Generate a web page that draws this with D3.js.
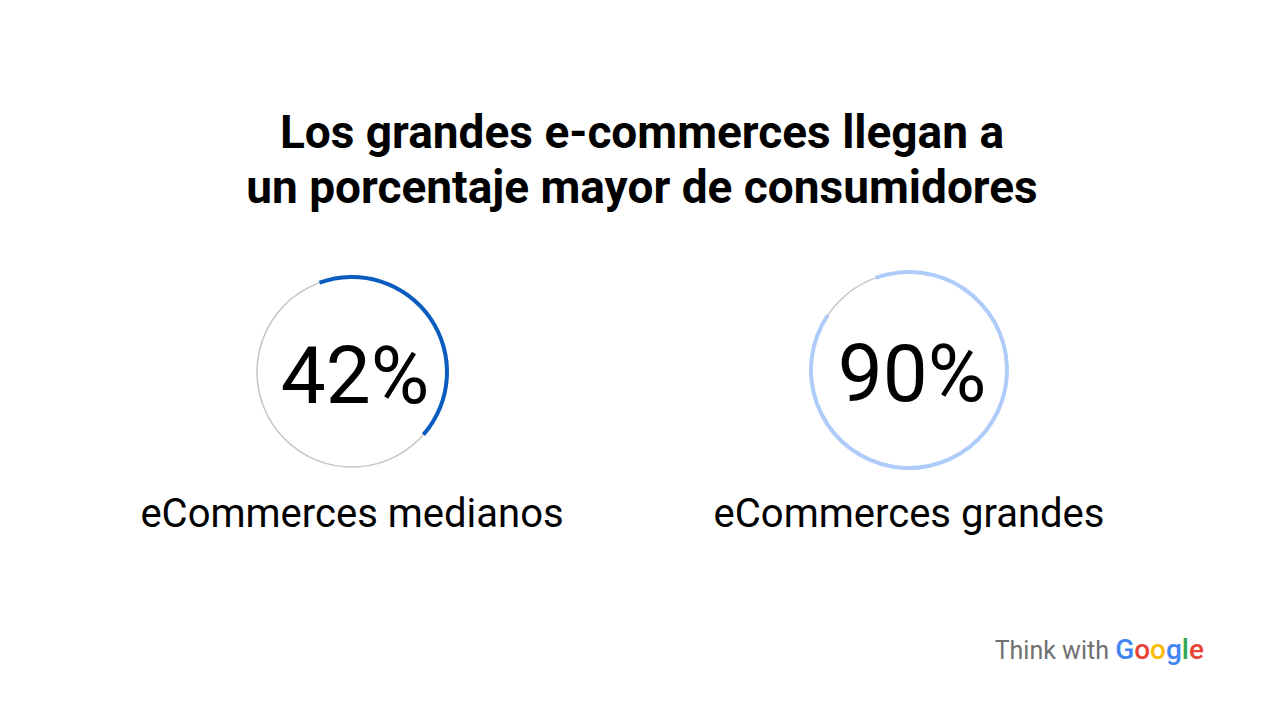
<!DOCTYPE html>
<html><head><meta charset="utf-8">
<script src="https://cdn.jsdelivr.net/npm/d3@7"></script>
<style>body{margin:0;background:#fff}</style>
</head><body>
<svg id="chart" width="1280" height="720"></svg>
<script>
var titleLines = ["Los grandes e-commerces llegan a", "un porcentaje mayor de consumidores"];
var labels = ["eCommerces medianos", "eCommerces grandes"];
var values = [42, 90];
var colors = ["#0a5cbf", "#aecbfa"];

var svg = d3.select("#chart");
var font = "Roboto, 'Noto Sans', sans-serif";

svg.selectAll(".title").data(titleLines).enter().append("text")
    .attr("x", 642).attr("y", function (d, i) { return 148 + i * 55; })
    .attr("text-anchor", "middle").attr("font-family", font)
    .attr("font-weight", "bold").attr("font-size", 46).attr("fill", "#000")
    .text(function (d) { return d; });

var x = d3.scalePoint().domain(labels).range([352, 909]);
var angle = d3.scaleLinear().domain([0, 100]).range([0, 2 * Math.PI]);
var start = -20 * Math.PI / 180;
var r = [95, 98];
var cy = [372, 370];

var g = svg.selectAll(".ring").data(labels).enter().append("g")
    .attr("transform", function (d, i) { return "translate(" + x(d) + "," + cy[i] + ")"; });

g.append("circle").attr("r", function (d, i) { return r[i]; })
    .attr("fill", "none").attr("stroke", "#c4c4c4").attr("stroke-width", 1.5);

g.append("path")
    .attr("d", function (d, i) {
        return d3.arc().innerRadius(r[i] - 2).outerRadius(r[i] + 2)
            .startAngle(start).endAngle(start + angle(values[i]))();
    })
    .attr("fill", function (d, i) { return colors[i]; });

g.append("text").attr("y", 31).attr("x", 3).attr("text-anchor", "middle")
    .attr("font-family", font).attr("font-size", 80).attr("fill", "#000")
    .text(function (d, i) { return values[i] + "%"; });

g.append("text").attr("y", function (d, i) { return 155 - cy[i] + 372; }).attr("text-anchor", "middle")
    .attr("font-family", font).attr("font-size", 40).attr("fill", "#000")
    .text(function (d) { return d; });

// logo
var logo = svg.append("text").attr("x", 1204).attr("y", 659).attr("text-anchor", "end")
    .attr("font-family", font).attr("font-size", 25);
logo.append("tspan").attr("fill", "#707070").text("Think with ");
var gl = [["G", "#4285f4"], ["o", "#ea4335"], ["o", "#fbbc05"], ["g", "#4285f4"], ["l", "#34a853"], ["e", "#ea4335"]];
gl.forEach(function (c) {
    logo.append("tspan").attr("fill", c[1]).attr("font-weight", 500).attr("font-size", 28).text(c[0]);
});
</script>
</body></html>
